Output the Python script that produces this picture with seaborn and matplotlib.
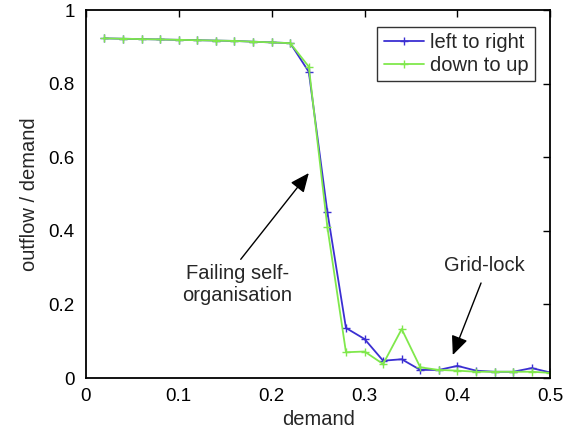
import matplotlib
matplotlib.use("Agg")
import matplotlib.pyplot as plt
import seaborn as sns
import pandas as pd

demand = [0.02, 0.04, 0.06, 0.08, 0.10, 0.12, 0.14, 0.16, 0.18, 0.20, 0.22,
          0.24, 0.26, 0.28, 0.30, 0.32, 0.34, 0.36, 0.38, 0.40, 0.42, 0.44,
          0.46, 0.48, 0.50]
left_to_right = [0.923, 0.922, 0.921, 0.920, 0.919, 0.918, 0.917, 0.916, 0.914,
                 0.912, 0.910, 0.832, 0.451, 0.136, 0.106, 0.047, 0.051, 0.022,
                 0.022, 0.033, 0.020, 0.017, 0.017, 0.027, 0.015]
down_to_up = [0.923, 0.922, 0.921, 0.920, 0.919, 0.918, 0.917, 0.916, 0.914,
              0.912, 0.910, 0.846, 0.410, 0.070, 0.072, 0.038, 0.133, 0.029,
              0.022, 0.020, 0.017, 0.017, 0.017, 0.017, 0.014]
series_names = ["left to right", "down to up"]

df = pd.concat([
    pd.DataFrame({"demand": demand, "ratio": left_to_right, "series": series_names[0]}),
    pd.DataFrame({"demand": demand, "ratio": down_to_up, "series": series_names[1]}),
])

sns.set_theme(style="white")
plt.rcParams["font.family"] = ["Liberation Sans", "DejaVu Sans"]

fig = plt.figure(figsize=(5.65, 4.36), dpi=100)
ax = fig.add_axes([0.152, 0.133, 0.822, 0.844])

palette = {"left to right": "#3b2fd2", "down to up": "#80e84c"}
sns.lineplot(data=df, x="demand", y="ratio", hue="series", style="series",
             markers={"left to right": "+", "down to up": "+"},
             dashes=False, palette=palette, linewidth=1.3, markersize=6,
             markeredgewidth=1.0, ax=ax, legend=True)

# give the markers the colour of their line
for line in ax.get_lines():
    line.set_markeredgecolor(line.get_color())
    line.set_markerfacecolor(line.get_color())

ax.set_xlim(0, 0.5)
ax.set_ylim(0, 1)
ax.set_xticks([0, 0.1, 0.2, 0.3, 0.4, 0.5])
ax.set_xticklabels(["0", "0.1", "0.2", "0.3", "0.4", "0.5"])
ax.set_yticks([0, 0.2, 0.4, 0.6, 0.8, 1])
ax.set_yticklabels(["0", "0.2", "0.4", "0.6", "0.8", "1"])
ax.tick_params(direction="in", length=5, width=1, top=True, right=True,
               labelsize=13.5, colors="black")
ax.tick_params(axis="x", pad=7)
ax.tick_params(axis="y", pad=8)
for s in ax.spines.values():
    s.set_color("black")
    s.set_linewidth(1.3)

ax.set_xlabel("demand", fontsize=14.5, labelpad=4)
ax.set_ylabel("outflow / demand", fontsize=14.5, labelpad=7)

leg = ax.legend(loc="upper right", fontsize=14.5, frameon=True, fancybox=False,
                edgecolor="black", handlelength=2.0, handletextpad=0.3,
                borderpad=0.3, labelspacing=0.2, borderaxespad=0,
                bbox_to_anchor=(0.966, 0.954))
leg.get_frame().set_linewidth(1.0)
for h in leg.legend_handles:
    h.set_markeredgecolor(h.get_color())

ax.annotate("Failing self-\norganisation", xy=(0.240, 0.557), xytext=(0.163, 0.255),
            ha="center", va="center", fontsize=14.5,
            arrowprops=dict(arrowstyle="-|>,head_length=0.8,head_width=0.35",
                            color="black", lw=1.0, relpos=(0.5, 1.0),
                            shrinkA=1, shrinkB=0))
ax.annotate("Grid-lock", xy=(0.395, 0.0625), xytext=(0.429, 0.307),
            ha="center", va="center", fontsize=14.5,
            arrowprops=dict(arrowstyle="-|>,head_length=0.8,head_width=0.35",
                            color="black", lw=1.0, relpos=(0.5, 0.0),
                            shrinkA=4, shrinkB=0))

fig.savefig("out.png", dpi=100)
